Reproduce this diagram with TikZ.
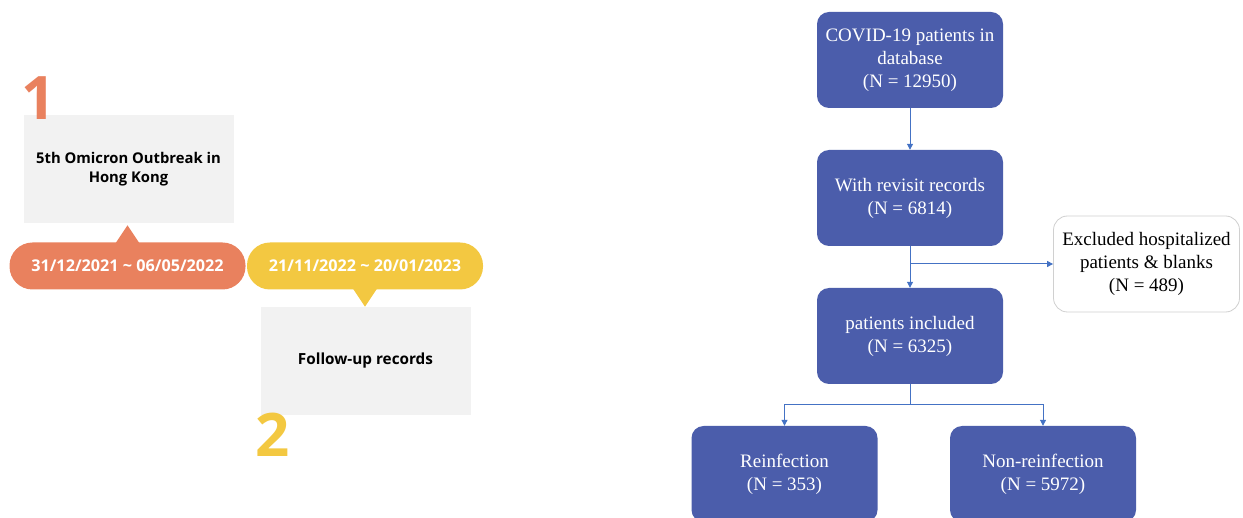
\documentclass[tikz,border=0pt]{standalone}
\usepackage{fontspec}
\setmainfont{Liberation Serif}
\newfontfamily\uifont{Open Sans}
\usetikzlibrary{arrows.meta,positioning,calc}
\definecolor{flowblue}{HTML}{4B5DAB}
\definecolor{linkblue}{HTML}{4472C4}
\definecolor{pillorange}{HTML}{E9815E}
\definecolor{pillyellow}{HTML}{F3C841}
\definecolor{cardgray}{HTML}{F2F2F2}
\definecolor{exborder}{HTML}{D0D0D0}
\tikzset{
  flowbox/.style={rectangle, rounded corners=12pt, fill=flowblue, draw=none, text=white,
    minimum width=186pt, minimum height=96pt, align=center, inner sep=2pt,
    font=\fontsize{19}{23}\selectfont},
  exbox/.style={rectangle, rounded corners=14pt, fill=white, draw=exborder, line width=0.8pt, text=black,
    minimum width=186pt, minimum height=96pt, align=center, inner sep=2pt,
    font=\fontsize{19}{23}\selectfont},
  card/.style={rectangle, fill=cardgray, draw=none, minimum width=210pt, minimum height=108pt,
    align=center, font=\uifont\bfseries\fontsize{14.8}{18.5}\selectfont},
  pill/.style={rectangle, rounded corners=23pt, draw=none, text=white, minimum width=236pt,
    minimum height=47pt, font=\uifont\bfseries\fontsize{16.2}{18}\selectfont},
  bignum/.style={font=\uifont\bfseries\fontsize{60}{60}\selectfont, inner sep=0pt},
  link/.style={draw=linkblue, line width=1pt},
  linkarrow/.style={link, -{Triangle[length=6pt,width=6pt]}},
}
\begin{document}
\begin{tikzpicture}[x=1pt,y=-1pt]
\useasboundingbox (0,0) rectangle (1243,518);
\clip (0,0) rectangle (1243,518);
% ---------- left timeline ----------
\node[card] (c1) at (128.5,169) {5th Omicron Outbreak in\\Hong Kong};
\node[card, font=\uifont\bfseries\fontsize{15.3}{18}\selectfont] (c2) at (365.5,361) {Follow-up records};
\node[pill, fill=pillorange] (p1) at (127.5,266) {31/12/2021 \textasciitilde{} 06/05/2022};
\node[pill, fill=pillyellow] (p2) at (365,266) {21/11/2022 \textasciitilde{} 20/01/2023};
\fill[pillorange] ($(p1.north)+(-12,1)$) -- ($(p1.north)+(0,-17)$) -- ($(p1.north)+(12,1)$) -- cycle;
\fill[pillyellow] ($(p2.south)+(-12,-1)$) -- ($(p2.south)+(0,17)$) -- ($(p2.south)+(12,-1)$) -- cycle;
\node[bignum, text=pillorange, anchor=north west] (n1) at (21,76) {1};
\node[bignum, text=pillyellow, anchor=north west] (n2) at (255,413) {2};
% ---------- right flowchart ----------
\node[flowbox] (b1) at (910,60) {COVID-19 patients in\\database\\(N = 12950)};
\node[flowbox] (b2) at (910,198) {With revisit records\\(N = 6814)};
\node[flowbox] (b3) at (910,336) {patients included\\(N = 6325)};
\node[exbox] (ex) at (1146.5,264) {Excluded hospitalized\\patients \& blanks\\(N = 489)};
\node[flowbox] (b4) at (784.5,474) {Reinfection\\(N = 353)};
\node[flowbox] (b5) at (1043,474) {Non-reinfection\\(N = 5972)};
\draw[linkarrow] (b1.south) -- (b2.north);
\draw[linkarrow] (b2.south) -- (b3.north);
\draw[linkarrow] (b2.south |- ex.west) -- (ex.west);
\draw[link] (b3.south) -- ++(0,20) coordinate (split);
\draw[linkarrow] (split) -| (b4.north);
\draw[linkarrow] (split) -| (b5.north);
\end{tikzpicture}
\end{document}
